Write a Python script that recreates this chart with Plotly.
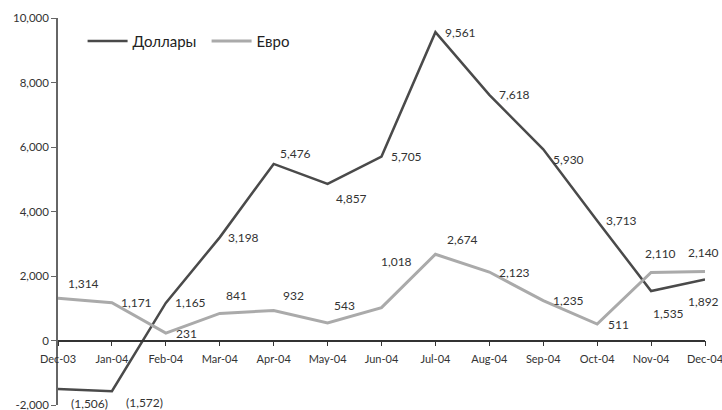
import plotly.graph_objects as go

months = ["Dec-03", "Jan-04", "Feb-04", "Mar-04", "Apr-04", "May-04", "Jun-04",
          "Jul-04", "Aug-04", "Sep-04", "Oct-04", "Nov-04", "Dec-04"]
usd = [-1506, -1572, 1165, 3198, 5476, 4857, 5705, 9561, 7618, 5930, 3713, 1535, 1892]
eur = [1314, 1171, 231, 841, 932, 543, 1018, 2674, 2123, 1235, 511, 2110, 2140]
y_ticks = [-2000, 0, 2000, 4000, 6000, 8000, 10000]

# label placement (pixel offsets from each point)
usd_shift = [(31, -14), (33, -11), (25, 0), (24, 0), (22, 10), (24, -15), (25, 0),
             (25, 0), (25, 0), (25, -10), (24, 0), (17, -22), (-2, -22)]
eur_shift = [(25, 15), (25, 0), (21, 0), (17, 18), (20, 15), (17, 17), (15, 46),
             (27, 15), (25, 0), (25, 0), (21, 0), (9, 19), (-2, 19)]

DARK = "#4a4a4a"
LIGHT = "#aaaaaa"
FONT = "Lato"


def fmt(v):
    s = f"{abs(v):,}"
    return f"({s})" if v < 0 else s


def tick_fmt(v):
    return f"{v:,}"


fig = go.Figure()
fig.add_trace(go.Scatter(x=months, y=usd, mode="lines", name="Доллары",
                         line=dict(color=DARK, width=2.5)))
fig.add_trace(go.Scatter(x=months, y=eur, mode="lines", name="Евро",
                         line=dict(color=LIGHT, width=3)))

annotations = []
for series, shifts in ((usd, usd_shift), (eur, eur_shift)):
    for m, v, (dx, dy) in zip(months, series, shifts):
        annotations.append(dict(x=m, y=v, text=fmt(v), showarrow=False,
                                xshift=dx, yshift=dy,
                                font=dict(family=FONT, size=12, color="#333333")))

ymin, ymax = -2000, 10000
fig.update_layout(
    width=722, height=410,
    margin=dict(l=58, r=17, t=18, b=5),
    paper_bgcolor="white", plot_bgcolor="white",
    font=dict(family=FONT, size=12, color="#333333"),
    showlegend=True,
    legend=dict(orientation="h", x=0.038, y=0.94, xanchor="left", yanchor="middle",
                font=dict(family=FONT, size=15, color="#222222"),
                bgcolor="rgba(0,0,0,0)", itemwidth=40, entrywidth=69,
                entrywidthmode="pixels"),
    annotations=annotations,
    xaxis=dict(type="category", range=[0, len(months) - 1],
               anchor="free", position=(0 - ymin) / (ymax - ymin),
               showline=True, linecolor="#333333", linewidth=1.5,
               ticks="outside", ticklen=5, tickcolor="#333333",
               ticklabelstandoff=4, automargin=False,
               showgrid=False, zeroline=False,
               tickfont=dict(family=FONT, size=11, color="#333333")),
    yaxis=dict(range=[ymin, ymax], tickvals=y_ticks,
               ticktext=[tick_fmt(v) for v in y_ticks],
               ticklabeloverflow="allow", automargin=False,
               showline=True, linecolor="#666666", linewidth=1.5,
               ticks="outside", ticklen=5, tickcolor="#666666",
               showgrid=False, zeroline=False,
               tickfont=dict(family=FONT, size=11.5, color="#333333")),
)

fig.write_html("out.html")
